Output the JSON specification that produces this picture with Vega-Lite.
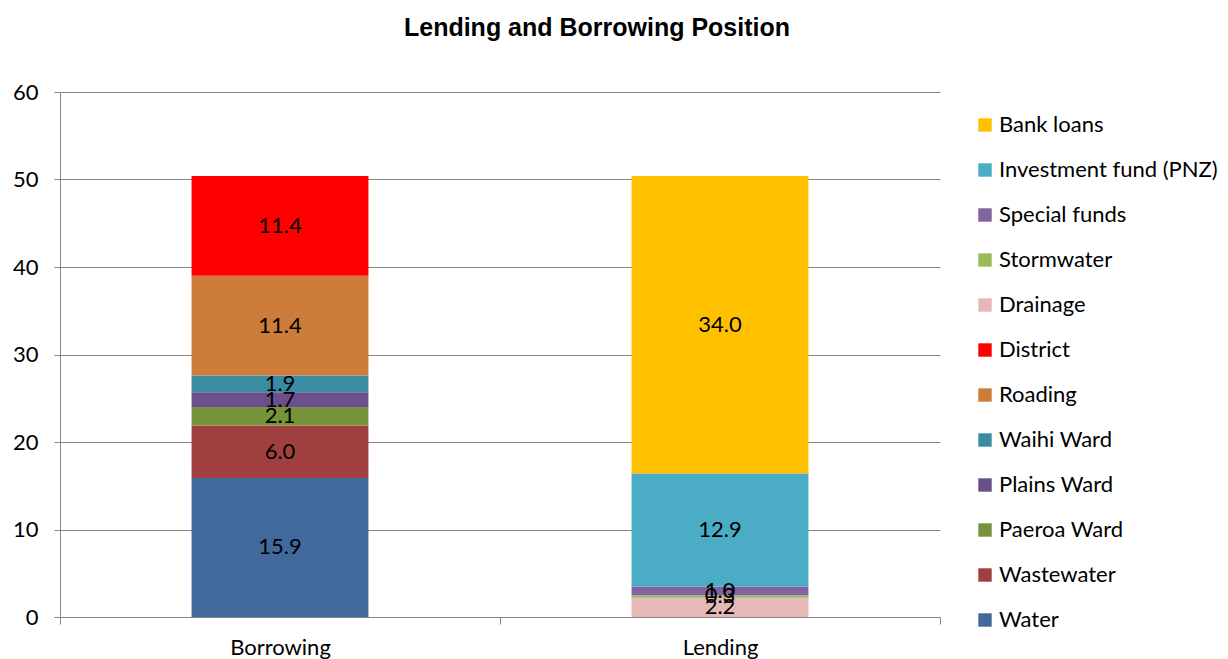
{
  "$schema": "https://vega.github.io/schema/vega-lite/v6.json",
  "width": 880,
  "height": 525,
  "autosize": {"type": "none"},
  "padding": {"left": 60, "top": 92, "right": 288, "bottom": 42},
  "background": "white",
  "title": {
    "text": "Lending and Borrowing Position",
    "font": "Liberation Sans",
    "fontSize": 25,
    "fontWeight": "bold",
    "color": "black",
    "anchor": "middle",
    "dx": 97,
    "offset": 40
  },
  "config": {"view": {"stroke": null}},
  "data": {
    "values": [
      {"cat": "Borrowing", "series": "Water", "rank": 1, "value": 15.9},
      {"cat": "Borrowing", "series": "Wastewater", "rank": 2, "value": 6.0},
      {"cat": "Borrowing", "series": "Paeroa Ward", "rank": 3, "value": 2.1},
      {"cat": "Borrowing", "series": "Plains Ward", "rank": 4, "value": 1.7},
      {"cat": "Borrowing", "series": "Waihi Ward", "rank": 5, "value": 1.9},
      {"cat": "Borrowing", "series": "Roading", "rank": 6, "value": 11.4},
      {"cat": "Borrowing", "series": "District", "rank": 7, "value": 11.4},
      {"cat": "Lending", "series": "Drainage", "rank": 8, "value": 2.2},
      {"cat": "Lending", "series": "Stormwater", "rank": 9, "value": 0.3},
      {"cat": "Lending", "series": "Special funds", "rank": 10, "value": 1.0},
      {"cat": "Lending", "series": "Investment fund (PNZ)", "rank": 11, "value": 12.9},
      {"cat": "Lending", "series": "Bank loans", "rank": 12, "value": 34.0}
    ]
  },
  "transform": [
    {"stack": "value", "groupby": ["cat"], "sort": [{"field": "rank", "order": "ascending"}], "as": ["y0", "y1"]},
    {"calculate": "(datum.y0 + datum.y1) / 2", "as": "ymid"}
  ],
  "encoding": {
    "x": {
      "field": "cat",
      "type": "nominal",
      "scale": {"paddingInner": 0, "paddingOuter": 0},
      "axis": {
        "title": null,
        "labelAngle": 0,
        "labelFont": "Lato",
        "labelFontSize": 22,
        "labelColor": "black",
        "tickBand": "extent",
        "tickSize": 7,
        "labelPadding": 13,
        "domainColor": "#868686",
        "tickColor": "#868686"
      }
    }
  },
  "layer": [
    {
      "mark": {"type": "bar", "width": {"band": 0.402}},
      "encoding": {
        "y": {
          "field": "y0",
          "type": "quantitative",
          "scale": {"domain": [0, 60]},
          "axis": {
            "title": null,
            "values": [0, 10, 20, 30, 40, 50, 60],
            "labelFont": "Lato",
            "labelFontSize": 22,
            "labelColor": "black",
            "tickSize": 6,
            "labelPadding": 16,
            "domainColor": "#868686",
            "tickColor": "#868686",
            "gridColor": "#868686",
            "grid": true
          }
        },
        "y2": {"field": "y1"},
        "color": {
          "field": "series",
          "type": "nominal",
          "scale": {
            "domain": ["Bank loans", "Investment fund (PNZ)", "Special funds", "Stormwater", "Drainage", "District", "Roading", "Waihi Ward", "Plains Ward", "Paeroa Ward", "Wastewater", "Water"],
            "range": ["#FFC000", "#4BACC6", "#8064A2", "#9BBB59", "#E6B9B8", "#FF0000", "#CD7C3A", "#3B8BA3", "#6B4E8A", "#77933C", "#A0403E", "#41699C"]
          },
          "legend": {
            "title": null,
            "orient": "none",
            "legendX": 914,
            "legendY": 22,
            "symbolType": "square",
            "symbolSize": 180,
            "symbolStrokeWidth": 0,
            "labelFont": "Lato",
            "labelFontSize": 22,
            "labelColor": "black",
            "labelLimit": 400,
            "rowPadding": 23,
            "labelOffset": 3
          }
        }
      }
    },
    {
      "mark": {"type": "text", "font": "Lato", "fontSize": 22, "color": "black"},
      "encoding": {
        "y": {"field": "ymid", "type": "quantitative"},
        "text": {"field": "value", "type": "quantitative", "format": ".1f"}
      }
    }
  ]
}
